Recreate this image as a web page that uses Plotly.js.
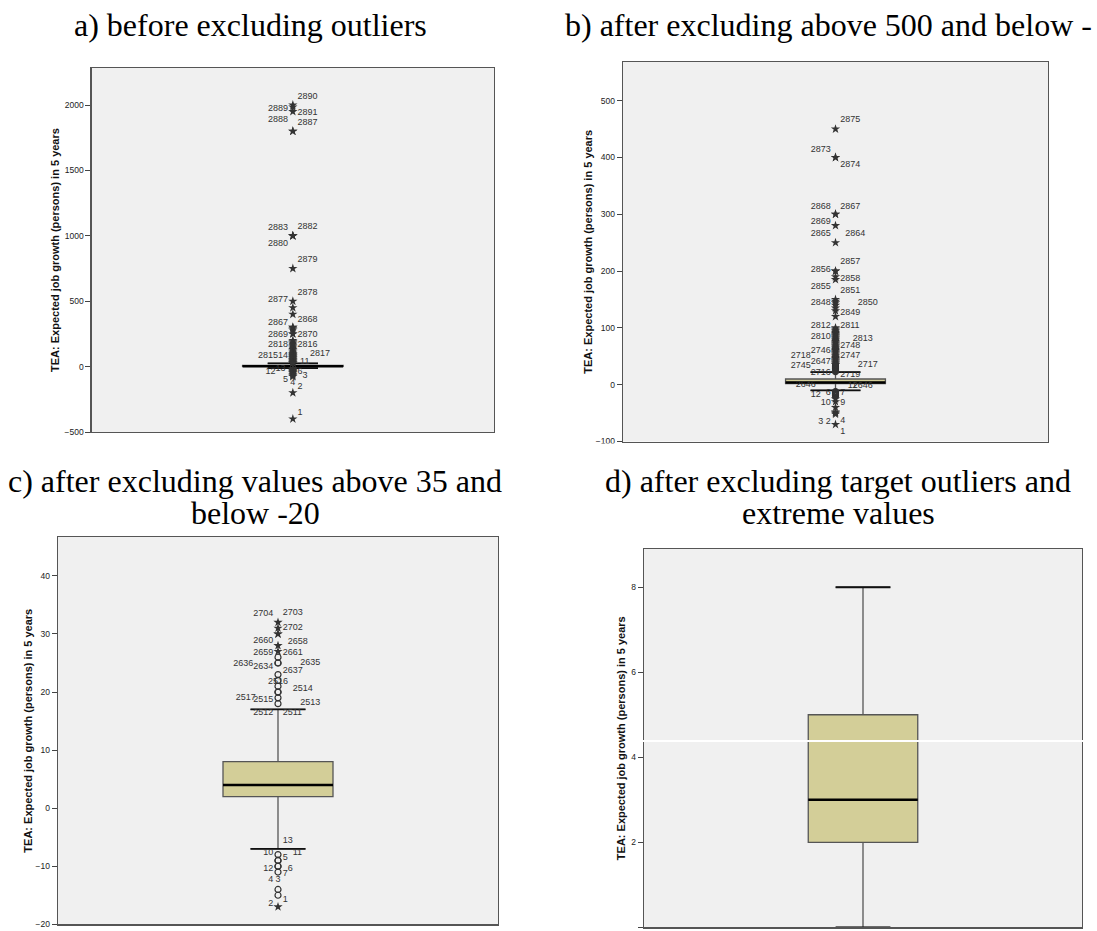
<!DOCTYPE html>
<html>
<head>
<meta charset="utf-8">
<script src="https://cdn.plot.ly/plotly-3.0.1.min.js"></script>
<style>html,body{margin:0;padding:0;background:#fff;}#chart{width:1097px;height:931px;}</style>
</head>
<body>
<div id="chart"></div>
<script>
// ---------------- DATA ----------------
const panelTitleLines = [
  ['a) before excluding outliers'],
  ['b) after excluding above 500 and below -'],
  ['c) after excluding values above 35 and', 'below -20'],
  ['d) after excluding target outliers and', 'extreme values']
];
const yAxisTitle = 'TEA: Expected job growth (persons) in 5 years';

// box statistics per panel (a, b, c, d)
const q1Values      = [1, 2, 2, 2];
const medianValues  = [3, 4, 4, 3];
const q3Values      = [10, 10, 8, 5];
const lowerWhiskers = [-12, -10, -7, 0];
const upperWhiskers = [24, 22, 17, 8];

// y tick values per panel
const aTicks = [-500, 0, 500, 1000, 1500, 2000];
const bTicks = [-100, 0, 100, 200, 300, 400, 500];
const cTicks = [-20, -10, 0, 10, 20, 30, 40];
const dTicks = [0, 2, 4, 6, 8];

// panel a: extreme values (stars) and outliers (circles)
const aStars = [2000, 1985, 1950, 1800, 1800, 1000, 1000, 1000, 750, 500, 450, 400, 300, 300, 290, 280, 250, 250,
  200, 190, 180, 170, 160, 150, 140, 130, 120, 110, 100, 95, 90, 85, 80, 75, 70, 65, 60, 55, 50, 45, 40, 35, 30, 28, 26,
  -15, -20, -25, -30, -35, -40, -45, -50, -60, -70, -76, -200, -400];
const aCircles = [];
// case labels: value where the label sits, text, side (l/r/c), extra gap
const aLabelAt   = [2060, 1975, 1942, 1886, 1868, 1063, 1070, 943, 816, 566, 510, 339, 357, 242, 242, 166, 166, 84, 84, 95, 38, -20, -38, -43, -69, -102, -122, -153, -352];
const aLabelText = ['2890','2889','2891','2888','2887','2883','2882','2880','2879','2878','2877','2867','2868','2869','2870','2818','2816','14','2815','2817','11','13','12','6','3','5','4','2','1'];
const aLabelSide = ['r','l','r','l','r','l','r','l','r','r','l','l','r','l','r','l','r','l','l','r','r','l','l','r','r','l','c','r','r'];
const aLabelGap  = [0,0,0,0,0,0,0,0,0,0,0,0,0,0,0,0,0,0,4,5,1,1,5,0,2,0,0,0,0];

// panel b
const bStars = [450, 400, 400, 300, 300, 280, 250, 200, 200, 190, 185, 150, 147, 144, 140, 135, 130, 120,
  100, 98, 96, 94, 92, 90, 88, 86, 84, 82, 80, 78, 76, 74, 72, 70, 68, 66, 64, 62, 60, 58, 56, 54, 52, 50,
  48, 46, 44, 42, 40, 38, 36, 35, -25, -30, -40, -48, -50, -52, -70];
const bCircles = [34, 33, 32, 31, 30, 29, 28, 27, 26, 25, 24, 23, -12, -13, -14, -15, -16, -17, -18, -19, -20];
const bLabelAt   = [466, 414, 387, 313, 313, 287, 265, 265, 217, 203, 187, 172, 166, 145, 145, 127.5, 104.6, 103, 84, 81, 68, 60.5, 51.7, 51, 40, 33, 35, 21, 17, 0, -2.5, -2.5, -17, -13.6, -13.6, -32, -32, -66, -63, -82];
const bLabelText = ['2875','2873','2874','2868','2867','2869','2865','2864','2857','2856','2858','2855','2851','2848','2850','2849','2812','2811','2810','2813','2748','2746','2718','2747','2647','2745','2717','2716','2719','2646','11','2646','12','6','7','10','9','3 2','4','1'];
const bLabelSide = ['r','l','r','l','r','l','l','r','r','l','r','l','r','l','r','r','l','r','l','r','r','l','l','r','l','l','r','l','r','l','r','r','l','l','r','l','r','l','r','r'];
const bLabelGap  = [0,0,0,0,0,0,0,2,0,0,0,0,0,0,7,0,0,0,0,5,0,0,8,0,0,8,7,0,0,6,3,5,4,0,0,0,0,0,0,0];

// panel c
const cStars = [32, 31, 30, 30, 28, 27, -17];
const cCircles = [26, 25, 25, 23, 22, 21, 20, 20, 19, 18, -8, -9, -9, -10, -10, -11, -14, -15];
const cLabelAt   = [33.4, 33.6, 31, 28.8, 28.6, 26.8, 26.7, 24.9, 24.3, 25, 23.7, 21.7, 20.5, 19, 18.6, 18.1, 16.5, 16.5, -5.6, -7.6, -7.6, -8.5, -10.4, -10.5, -11.3, -12.4, -12.4, -16.4, -15.8];
const cLabelText = ['2704','2703','2702','2660','2658','2659','2661','2636','2634','2635','2637','2516','2514','2517','2515','2513','2512','2511','13','10','11','5','12','6','7','4','3','2','1'];
const cLabelSide = ['l','r','r','l','r','l','r','l','l','r','r','c','r','l','l','r','l','r','r','l','r','r','l','r','r','l','c','l','r'];
const cLabelGap  = [0,0,0,0,2,0,0,8,0,7,0,0,4,7,0,7,0,0,0,0,4,0,0,2,0,0,0,0,0];

// panel d: no outliers
const dStars = [];
const dCircles = [];
const dLabelAt = [];
const dLabelText = [];
const dLabelSide = [];
const dLabelGap = [];

// ---------------- LAYOUT HELPERS ----------------
const W = 1097, H = 931;
const fx = p => p / W;
const fy = p => 1 - p / H;
const sideMap = {l: 'middle left', r: 'middle right', c: 'middle center'};
const NB = '\u00a0';

const frames = [
  {x0: 91.7, x1: 494, y0: 68, y1: 432, range: [-500, 2283], ticks: aTicks, bw: 0.5, titleX: 250, titleY: [25], axX: 55},
  {x0: 623, x1: 1048, y0: 62, y1: 441.5, range: [-100, 568], ticks: bTicks, bw: 0.47, titleX: 828, titleY: [25], axX: 588},
  {x0: 58, x1: 498, y0: 537, y1: 924.3, range: [-20, 46.7], ticks: cTicks, bw: 0.5, titleX: 255, titleY: [481, 513], axX: 28},
  {x0: 644, x1: 1082, y0: 549, y1: 927.3, range: [0, 8.9], ticks: dTicks, bw: 0.5, titleX: 838, titleY: [481, 513], axX: 621}
];
const stars   = [aStars, bStars, cStars, dStars];
const circles = [aCircles, bCircles, cCircles, dCircles];
const labAt   = [aLabelAt, bLabelAt, cLabelAt, dLabelAt];
const labTxt  = [aLabelText, bLabelText, cLabelText, dLabelText];
const labSide = [aLabelSide, bLabelSide, cLabelSide, dLabelSide];
const labGap  = [aLabelGap, bLabelGap, cLabelGap, dLabelGap];

const boxFill = 'rgb(211,206,152)';
const ink = '#333333';
const traces = [];
const layout = {
  width: W, height: H,
  margin: {l: 0, r: 0, t: 0, b: 0},
  paper_bgcolor: '#ffffff',
  plot_bgcolor: '#f0f0f0',
  showlegend: false,
  annotations: [],
  shapes: []
};

frames.forEach((f, i) => {
  const n = i === 0 ? '' : String(i + 1);
  const xa = 'x' + n, ya = 'y' + n;
  layout['xaxis' + n] = {
    domain: [fx(f.x0), fx(f.x1)], range: [-1, 1], anchor: ya,
    showticklabels: false, ticks: '', showgrid: false, zeroline: false,
    showline: true, mirror: true, linecolor: '#555', linewidth: 1.3, fixedrange: true
  };
  layout['yaxis' + n] = {
    domain: [fy(f.y1), fy(f.y0)], range: f.range, anchor: xa,
    tickvals: f.ticks, ticks: 'outside', ticklen: 5, tickcolor: '#444', tickwidth: 1,
    tickfont: {family: 'Liberation Sans, Arial, sans-serif', size: 8.5, color: '#222'},
    showgrid: false, zeroline: false, showline: true, mirror: true,
    linecolor: '#555', linewidth: 1.3, fixedrange: true
  };
  traces.push({
    type: 'box', xaxis: xa, yaxis: ya, x: [0],
    q1: [q1Values[i]], median: [medianValues[i]], q3: [q3Values[i]],
    lowerfence: [lowerWhiskers[i]], upperfence: [upperWhiskers[i]],
    width: f.bw, whiskerwidth: 0.5, boxpoints: false,
    fillcolor: boxFill, line: {color: '#555', width: 1.3}, hoverinfo: 'skip'
  });
  // darker whisker caps and thick median line, as in the SPSS output
  const capHalf = f.bw / 4;
  [lowerWhiskers[i], upperWhiskers[i]].forEach(v => traces.push({
    type: 'scatter', mode: 'lines', xaxis: xa, yaxis: ya,
    x: [-capHalf, capHalf], y: [v, v],
    line: {color: '#111', width: 1.8}, hoverinfo: 'skip'
  }));
  traces.push({
    type: 'scatter', mode: 'lines', xaxis: xa, yaxis: ya,
    x: [-f.bw / 2, f.bw / 2], y: [medianValues[i], medianValues[i]],
    line: {color: '#000', width: 2.5}, hoverinfo: 'skip'
  });
  if (circles[i].length) traces.push({
    type: 'scatter', mode: 'markers', xaxis: xa, yaxis: ya,
    x: circles[i].map(() => 0), y: circles[i],
    marker: {symbol: 'circle-open', size: 6, color: ink, line: {width: 1.2, color: ink}}, hoverinfo: 'skip'
  });
  if (stars[i].length) traces.push({
    type: 'scatter', mode: 'markers', xaxis: xa, yaxis: ya,
    x: stars[i].map(() => 0), y: stars[i],
    marker: {symbol: 'star', size: 7, color: ink, line: {width: 0}}, hoverinfo: 'skip'
  });
  if (labAt[i].length) traces.push({
    type: 'scatter', mode: 'markers+text', xaxis: xa, yaxis: ya,
    x: labAt[i].map(() => 0), y: labAt[i],
    text: labTxt[i].map((t, k) => {
      const pad = NB.repeat(labGap[i][k]);
      const s = labSide[i][k];
      return s === 'l' ? t + pad : (s === 'r' ? pad + t : t);
    }),
    textposition: labSide[i].map(s => sideMap[s]),
    textfont: {family: 'Liberation Sans, Arial, sans-serif', size: 9, color: '#333'},
    marker: {size: 6, opacity: 0}, hoverinfo: 'skip', cliponaxis: false
  });
  panelTitleLines[i].forEach((line, k) => {
    layout.annotations.push({
      xref: 'paper', yref: 'paper', x: fx(f.titleX), y: fy(f.titleY[k]),
      xanchor: 'center', yanchor: 'middle', showarrow: false,
      text: line,
      font: {family: 'Liberation Serif, Times New Roman, serif', size: 32, color: '#000'}
    });
  });
  layout.annotations.push({
    xref: 'paper', yref: 'paper', x: fx(f.axX), y: fy((f.y0 + f.y1) / 2),
    xanchor: 'center', yanchor: 'middle', showarrow: false, textangle: -90,
    text: yAxisTitle,
    font: {family: 'Liberation Sans, Arial, sans-serif', size: 11, color: '#111', weight: 'bold'}
  });
});

// white crop below panel b and the white scan line across panel d
layout.shapes.push({type: 'rect', xref: 'paper', yref: 'paper', x0: fx(590), x1: fx(1097), y0: fy(462), y1: fy(443.5),
  fillcolor: '#fff', line: {width: 0}, layer: 'above'});
layout.shapes.push({type: 'line', xref: 'paper', yref: 'paper', x0: fx(580), x1: fx(1083), y0: fy(741), y1: fy(741),
  line: {color: '#fff', width: 2}, layer: 'above'});

Plotly.newPlot('chart', traces, layout, {staticPlot: true, displayModeBar: false});
</script>
</body>
</html>
